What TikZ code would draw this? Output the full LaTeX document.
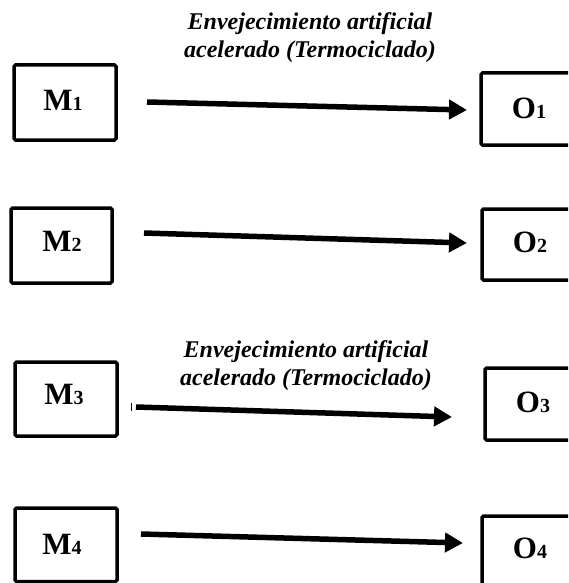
\documentclass[tikz,border=0pt]{standalone}
\usepackage{fontspec}
\setmainfont{Liberation Serif}
\usetikzlibrary{arrows.meta}
\tikzset{
  box/.style={draw=black, line width=3.5pt, rounded corners=1.5pt},
  lbl/.style={font=\fontsize{31}{31}\selectfont\bfseries, inner sep=0pt},
  ttl/.style={font=\fontsize{24}{28}\selectfont\bfseries\itshape, align=center, inner sep=0pt},
  flow/.style={line width=5.5pt, -{Triangle[length=18pt,width=19pt]}}
}
\newcommand{\sub}[1]{{\fontsize{20}{20}\selectfont #1}}
\begin{document}
\begin{tikzpicture}[x=1pt,y=-1pt]
\useasboundingbox (0,0) rectangle (568,583);
\clip (0,0) rectangle (568,583);
% boxes
\draw[box] (14,65) rectangle (116,140);
\draw[box] (481,73) rectangle (580,145);
\draw[box] (11,208) rectangle (112,283);
\draw[box] (482,209) rectangle (580,280);
\draw[box] (15,362) rectangle (117,436);
\draw[box] (485,368) rectangle (580,440);
\draw[box] (15,508) rectangle (117,581.5);
\draw[box] (482,516) rectangle (580,600);
% labels
\node[lbl] (m1) at (63,100) {M\sub{1}};
\node[lbl] (o1) at (529,108) {O\sub{1}};
\node[lbl] (m2) at (62,241) {M\sub{2}};
\node[lbl] (o2) at (530,242) {O\sub{2}};
\node[lbl] (m3) at (64,394) {M\sub{3}};
\node[lbl] (o3) at (533,402) {O\sub{3}};
\node[lbl] (m4) at (62,544) {M\sub{4}};
\node[lbl] (o4) at (530,548) {O\sub{4}};
% titles
\node[ttl] (t1) at (310,38) {Envejecimiento artificial\\acelerado (Termociclado)};
\node[ttl] (t3) at (306,366) {Envejecimiento artificial\\acelerado (Termociclado)};
% arrow endpoints
\coordinate (a1s) at (147,102); \coordinate (a1e) at (467,110);
\coordinate (a2s) at (144,233); \coordinate (a2e) at (467,243);
\coordinate (a3s) at (136,407); \coordinate (a3e) at (452,417);
\coordinate (a4s) at (141,534); \coordinate (a4e) at (463,543);
\draw[flow] (a1s) -- (a1e);
\draw[flow] (a2s) -- (a2e);
\draw[flow] (a3s) -- (a3e);
\draw[flow] (a4s) -- (a4e);
\coordinate (tk1) at (131,403); \coordinate (tk2) at (131,411);
\draw[line width=1pt] (tk1) -- (tk2);
\end{tikzpicture}
\end{document}
